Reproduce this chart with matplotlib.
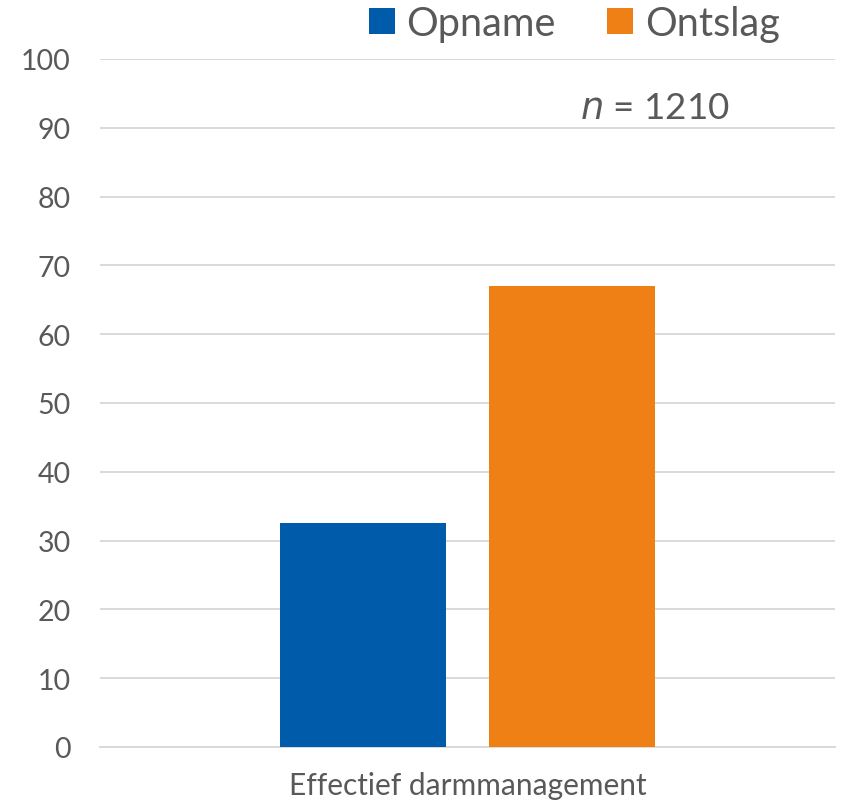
import matplotlib
matplotlib.use('Agg')
import matplotlib.pyplot as plt
from matplotlib.patches import Patch

plt.rcParams['font.family'] = ['Lato', 'DejaVu Sans']

categories = ['Effectief darmmanagement']
series = ['Opname', 'Ontslag']
values = [32.5, 67.0]
colors = ['#005BAA', '#EF8016']
yticks = [0, 10, 20, 30, 40, 50, 60, 70, 80, 90, 100]
n_label = 1210

TEXT = '#595959'
GRID = '#d9d9d9'

fig = plt.figure(figsize=(8.51, 8.04), dpi=100, facecolor='white')
ax = fig.add_axes([0.1175, 0.0697, 0.8635, 0.8557])

width = 0.2265
offsets = [-0.142, 0.142]
for i, (name, val) in enumerate(zip(series, values)):
    ax.bar(0 + offsets[i], val, width=width, color=colors[i], label=name, zorder=3)

ax.set_xlim(-0.5, 0.5)
ax.set_ylim(0, 100)
ax.set_yticks(yticks)
ax.set_yticklabels([str(t) for t in yticks], fontsize=20.5, color=TEXT)
ax.set_xticks([0])
ax.set_xticklabels(categories, fontsize=21.5, color=TEXT)
ax.tick_params(axis='both', length=0)
ax.tick_params(axis='x', pad=17)
ax.tick_params(axis='y', pad=21)

ax.grid(axis='y', color=GRID, linewidth=1.4, zorder=0)
for s in ['top', 'right', 'left']:
    ax.spines[s].set_visible(False)
ax.spines['bottom'].set_color(GRID)
ax.spines['bottom'].set_linewidth(1.4)

ax.text(0.857, 0.930, r'$n$' + f' = {n_label}', transform=ax.transAxes,
        ha='right', va='center', fontsize=26.5, color=TEXT)

handles = [Patch(facecolor=c, label=s) for c, s in zip(colors, series)]
fig.legend(handles=handles, loc='center', bbox_to_anchor=(0.675, 0.97), ncol=2,
           frameon=False, fontsize=28.5, labelcolor=TEXT, handlelength=0.65,
           handleheight=0.65, handletextpad=0.3, columnspacing=1.3)

fig.savefig('out.png', dpi=100)
